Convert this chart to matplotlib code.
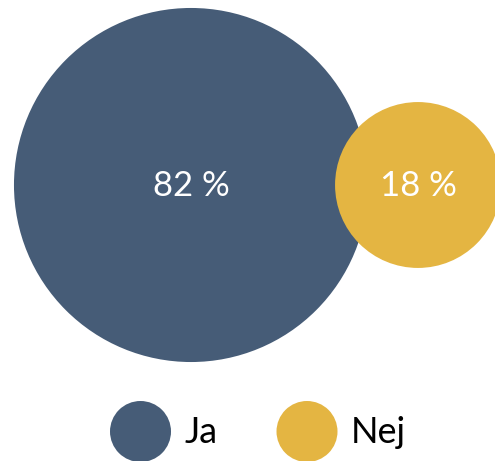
import numpy as np
import matplotlib
matplotlib.use("Agg")
import matplotlib.pyplot as plt
from matplotlib.patches import Circle

# Survey answers (share of respondents, %)
categories = ["Ja", "Nej"]
values = [82, 18]
labels = ["82 %", "18 %"]
colors = ["#465C77", "#E4B542"]

plt.rcParams["font.family"] = ["Lato", "DejaVu Sans"]

W, H = 495, 461
fig = plt.figure(figsize=(W / 100, H / 100), dpi=100)
ax = fig.add_axes([0, 0, 1, 1])
ax.set_xlim(0, W)
ax.set_ylim(H, 0)
ax.set_aspect("equal")
ax.axis("off")

# Bubble area proportional to the value
scale = 19.55
radii = [scale * np.sqrt(v) for v in values]
centers = [(191, 185), (418, 185)]

for (cx, cy), r, c, lab in zip(centers, radii, colors, labels):
    ax.add_patch(Circle((cx, cy), r, facecolor=c, edgecolor="none"))
    ax.text(cx, cy + 1, lab, color="white", fontsize=25,
            ha="center", va="center")

# Legend
leg_x = [140.5, 307]
leg_y = 431.5
for x, c, name in zip(leg_x, colors, categories):
    ax.add_patch(Circle((x, leg_y), 30.5, facecolor=c, edgecolor="none"))
    ax.text(x + 44, leg_y + 1, name, color="black", fontsize=26,
            ha="left", va="center")

fig.savefig("out.png", dpi=100)
